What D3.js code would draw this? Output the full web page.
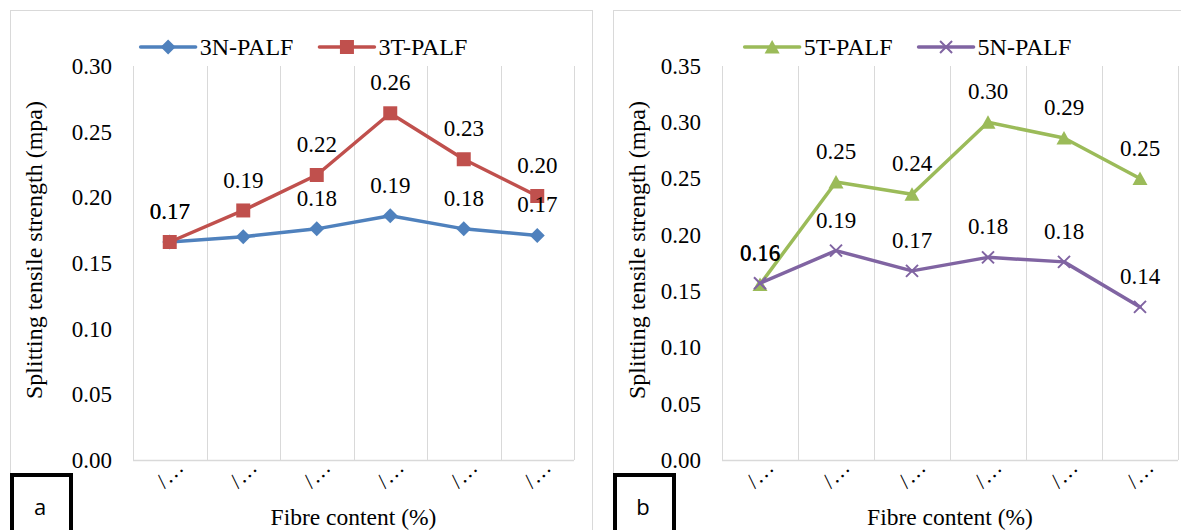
<!DOCTYPE html>
<html>
<head>
<meta charset="utf-8">
<script src="https://cdn.jsdelivr.net/npm/d3@7"></script>
<style>
  html, body { margin: 0; padding: 0; background: #fff; }
  svg { display: block; }
  svg text { font-family: "Liberation Serif", "Times New Roman", Times, serif; fill: #000; }
</style>
</head>
<body>
<svg id="chart" width="1181" height="530"></svg>
<script>
// ---------------- data ----------------
const categories = ["c1", "c2", "c3", "c4", "c5", "c6"];
const tickLabels = ["/…", "/…", "/…", "/…", "/…", "/…"];

const seriesNamesA = ["3N-PALF", "3T-PALF"];
const values3N = [0.166, 0.170, 0.176, 0.186, 0.176, 0.171];
const values3T = [0.166, 0.190, 0.217, 0.264, 0.229, 0.201];
const hiddenLabels3N = [1];

const seriesNamesB = ["5T-PALF", "5N-PALF"];
const values5T = [0.156, 0.247, 0.236, 0.300, 0.286, 0.250];
const values5N = [0.157, 0.186, 0.168, 0.180, 0.176, 0.136];

const yTicksA = [0, 0.05, 0.10, 0.15, 0.20, 0.25, 0.30];
const yTicksB = [0, 0.05, 0.10, 0.15, 0.20, 0.25, 0.30, 0.35];

const yTitle = "Splitting tensile strength (mpa)";
const xTitle = "Fibre content (%)";

// ---------------- styling ----------------
const SERIF = "'Liberation Serif', 'Times New Roman', Times, serif";
const FONT = 23;
const GRID = "#d9d9d9";
const colors = { "3N-PALF": "#4f81bd", "3T-PALF": "#c0504d", "5T-PALF": "#9bbb59", "5N-PALF": "#8064a2" };
const markers = { "3N-PALF": "diamond", "3T-PALF": "square", "5T-PALF": "triangle", "5N-PALF": "cross" };

const svg = d3.select("#chart");
const fmt = d3.format(".2f");

function serifText(sel, size) {
  return sel.style("font-family", SERIF).style("font-size", size + "px").attr("fill", "#000");
}

function markerPath(type) {
  switch (type) {
    case "diamond": return "M0,-7.5L7.5,0L0,7.5L-7.5,0Z";
    case "square": return "M-7,-7H7V7H-7Z";
    case "triangle": return "M0,-7L7.5,6.5H-7.5Z";
    case "cross": return "M-6,-6L6,6M-6,6L6,-6";
  }
}

function drawMarker(g, type, color, x, y) {
  const p = g.append("path").attr("d", markerPath(type)).attr("transform", `translate(${x},${y})`);
  if (type === "cross") p.attr("fill", "none").attr("stroke", color).attr("stroke-width", 2);
  else p.attr("fill", color).attr("stroke", "none");
}

function drawPanel(cfg) {
  const g = svg.append("g");
  // panel border
  g.append("rect").attr("x", cfg.bx + 0.5).attr("y", cfg.by + 0.5)
    .attr("width", cfg.bw).attr("height", cfg.bh)
    .attr("fill", "#fff").attr("stroke", GRID).attr("stroke-width", 1);

  const x = d3.scaleBand().domain(categories).range([cfg.left, cfg.right]);
  const y = d3.scaleLinear().domain([0, cfg.yMax]).range([cfg.bottom, cfg.top]);

  // vertical gridlines at band boundaries
  const bounds = categories.map(c => x(c)).concat([x(categories[categories.length - 1]) + x.bandwidth()]);
  g.append("g").selectAll("line").data(bounds).join("line")
    .attr("x1", d => Math.round(d) + 0.5).attr("x2", d => Math.round(d) + 0.5)
    .attr("y1", y(cfg.yMax)).attr("y2", y(0))
    .attr("stroke", GRID).attr("stroke-width", 1);
  // bottom axis line
  g.append("line").attr("x1", cfg.left).attr("x2", cfg.right)
    .attr("y1", Math.round(y(0)) + 0.5).attr("y2", Math.round(y(0)) + 0.5)
    .attr("stroke", GRID).attr("stroke-width", 1.5);

  // y axis labels
  const yAxis = d3.axisLeft(y).tickValues(cfg.yTicks).tickFormat(fmt).tickSize(0).tickPadding(21);
  const ya = g.append("g").attr("transform", `translate(${cfg.left},0)`).call(yAxis);
  ya.attr("font-family", null).attr("font-size", null);
  ya.select(".domain").remove();
  serifText(ya.selectAll("text"), FONT);

  // x axis labels (rotated, truncated)
  const xAxis = d3.axisBottom(x).tickFormat((d, i) => tickLabels[i]).tickSize(0);
  const xa = g.append("g").attr("transform", `translate(0,${cfg.bottom})`).call(xAxis);
  xa.attr("font-family", null).attr("font-size", null);
  xa.select(".domain").remove();
  serifText(xa.selectAll("text"), 22)
    .attr("text-anchor", "end").attr("y", 0).attr("dy", 0)
    .attr("transform", "translate(15,9) rotate(-45)");

  // titles
  serifText(g.append("text"), 24).attr("transform", `translate(${cfg.yTitleX},${cfg.yTitleY}) rotate(-90)`)
    .attr("text-anchor", "middle").attr("dy", "0.35em").text(yTitle);
  serifText(g.append("text"), 23.5).attr("x", (cfg.left + cfg.right) / 2).attr("y", cfg.xTitleY)
    .attr("text-anchor", "middle").attr("dy", "0.35em").text(xTitle);

  const cx = i => x(categories[i]) + x.bandwidth() / 2;
  const line = d3.line().x((d, i) => cx(i)).y(d => y(d));

  // lines and markers
  cfg.series.forEach(s => {
    g.append("path").datum(s.values).attr("d", line)
      .attr("fill", "none").attr("stroke", colors[s.name]).attr("stroke-width", 3.5)
      .attr("stroke-linejoin", "round").attr("stroke-linecap", "round");
    s.values.forEach((v, i) => drawMarker(g, markers[s.name], colors[s.name], cx(i), y(v)));
  });
  // data labels
  cfg.series.forEach(s => {
    s.values.forEach((v, i) => {
      if (s.hidden && s.hidden.includes(i)) return;
      serifText(g.append("text"), FONT).attr("x", cx(i)).attr("y", y(v) - 31).attr("dy", "0.35em")
        .attr("text-anchor", "middle").text(fmt(v));
    });
  });

  // legend
  const lg = g.append("g");
  let lx = 0;
  cfg.series.forEach((s, k) => {
    const item = lg.append("g").attr("transform", `translate(${lx},0)`);
    item.append("line").attr("x1", 0).attr("x2", 55).attr("y1", 0).attr("y2", 0)
      .attr("stroke", colors[s.name]).attr("stroke-width", 3.5).attr("stroke-linecap", "round");
    drawMarker(item, markers[s.name], colors[s.name], 27.5, 0);
    const t = serifText(item.append("text"), 24).attr("x", 59).attr("dy", "0.35em").text(s.name);
    lx += 59 + t.node().getComputedTextLength() + 26;
  });
  const legW = lx - 26;
  lg.attr("transform", `translate(${cfg.legendCx - legW / 2},${cfg.legendY})`);

  // panel letter box
  g.append("rect").attr("x", cfg.bx + 2).attr("y", cfg.boxY)
    .attr("width", 59).attr("height", 80)
    .attr("fill", "#fff").attr("stroke", "#000").attr("stroke-width", 4);
  g.append("text").attr("x", cfg.bx + 30).attr("y", cfg.boxY + 32).attr("dy", "0.35em")
    .attr("text-anchor", "middle")
    .style("font-size", "22px")
    .style("font-family", "'Open Sans', 'Liberation Sans', sans-serif").text(cfg.letter);
}

drawPanel({
  bx: 10, by: 10, bw: 582, bh: 560,
  left: 133, right: 574, top: 66, bottom: 460,
  yMax: 0.30, yTicks: yTicksA,
  yTitleX: 34, yTitleY: 250, xTitleY: 517,
  legendCx: 304, legendY: 47,
  boxY: 475, letter: "a",
  series: [
    { name: seriesNamesA[0], values: values3N, hidden: hiddenLabels3N },
    { name: seriesNamesA[1], values: values3T }
  ]
});

drawPanel({
  bx: 613, by: 10, bw: 600, bh: 560,
  left: 722, right: 1178, top: 66, bottom: 460,
  yMax: 0.35, yTicks: yTicksB,
  yTitleX: 637, yTitleY: 250, xTitleY: 517,
  legendCx: 908, legendY: 47,
  boxY: 475, letter: "b",
  series: [
    { name: seriesNamesB[0], values: values5T },
    { name: seriesNamesB[1], values: values5N }
  ]
});
</script>
</body>
</html>
